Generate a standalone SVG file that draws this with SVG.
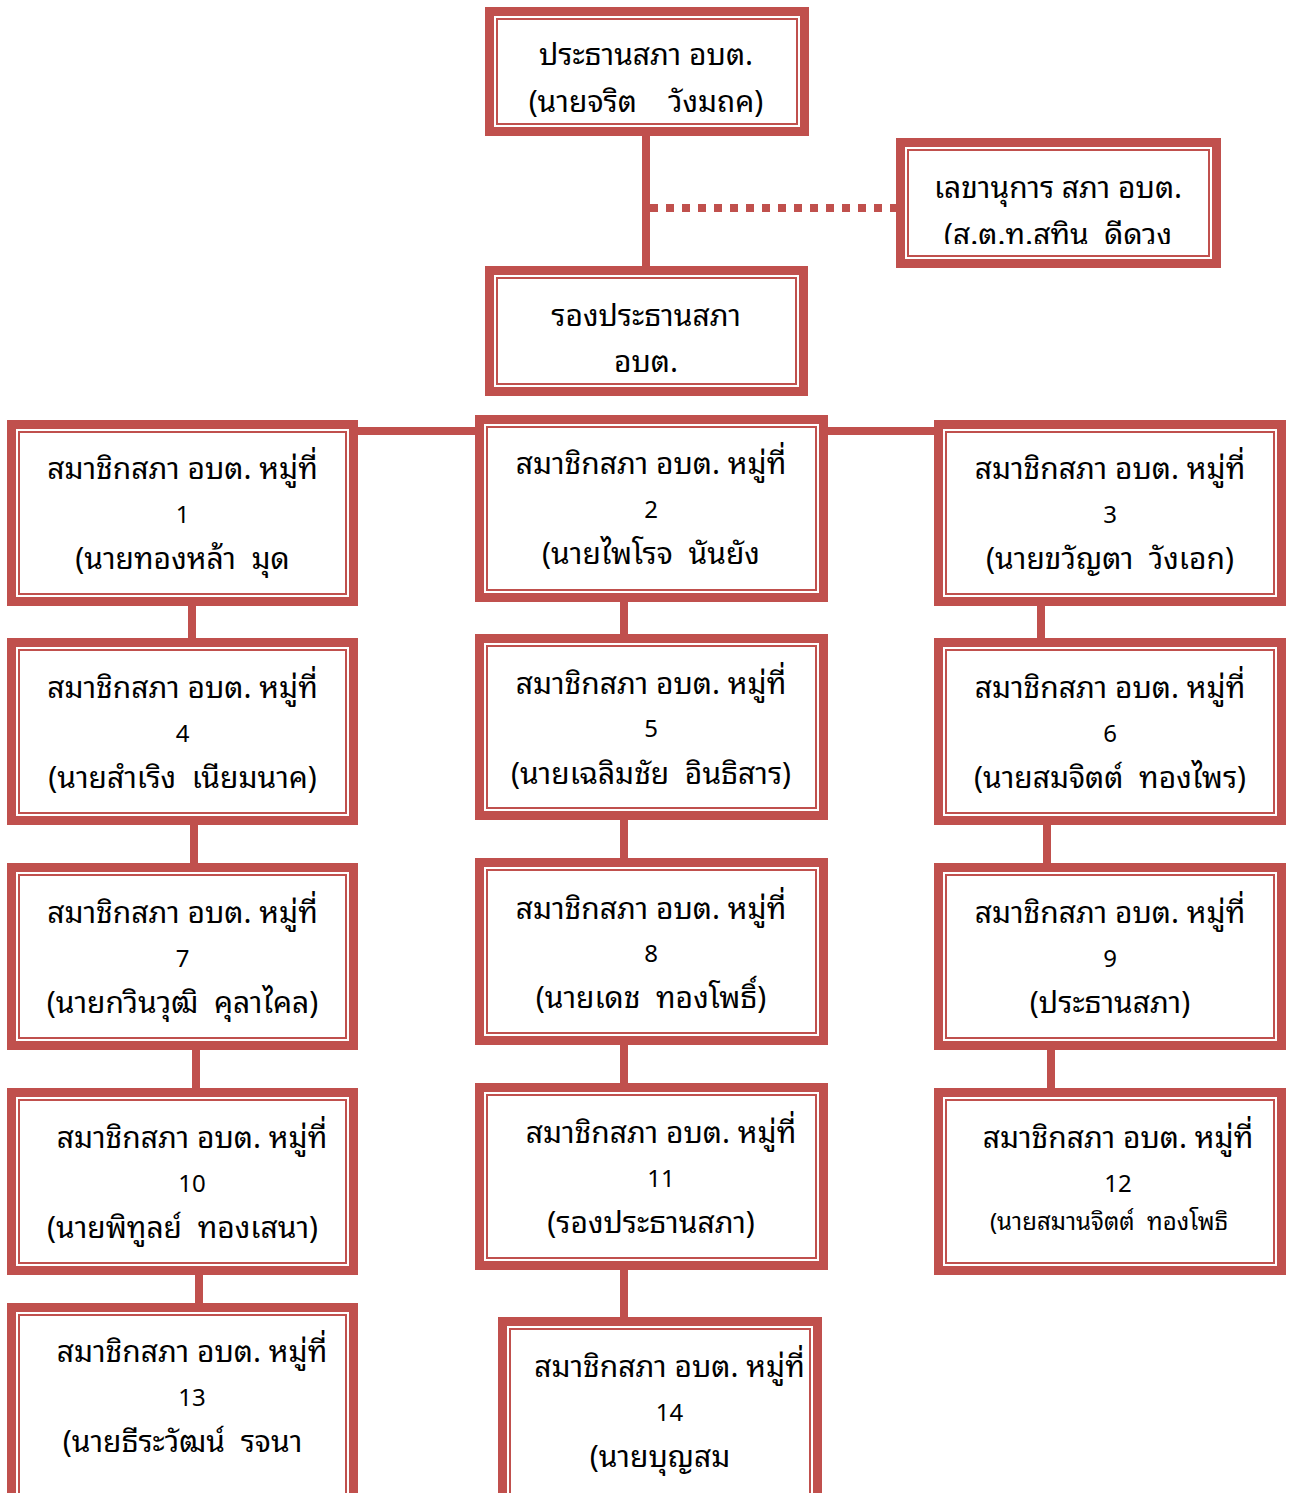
<svg xmlns="http://www.w3.org/2000/svg" width="1289" height="1493" viewBox="0 0 1289 1493">
<style>
.o{fill:#fff;stroke:#C0504D;stroke-width:9}
.i{fill:none;stroke:#C0504D;stroke-width:2}
.c{stroke:#C0504D;stroke-width:8;fill:none}
.d{stroke:#C0504D;stroke-width:8;fill:none;stroke-dasharray:8 8}
text{font-family:"Noto Sans Thai Looped","Tahoma","Loma","Garuda","Waree","Noto Sans Thai","Noto Sans","DejaVu Sans",sans-serif;font-size:30px;fill:#000;text-anchor:middle;white-space:pre}
.s{font-size:24px}
.n{font-size:24px}
</style>
<defs>
<clipPath id="secClip"><rect x="909" y="151" width="299" height="93"/></clipPath>
<clipPath id="b12Clip"><rect x="947" y="1101" width="326" height="150"/></clipPath>
</defs>
<rect width="1289" height="1493" fill="#fff"/>
<g id="connectors">
<line class="c" x1="646" y1="132" x2="646" y2="268"/>
<line class="d" x1="650" y1="208" x2="896" y2="208"/>
<line class="c" x1="352" y1="431" x2="480" y2="431"/>
<line class="c" x1="822" y1="431" x2="940" y2="431"/>
<line class="c" x1="192" y1="602" x2="192" y2="642"/>
<line class="c" x1="194" y1="821" x2="194" y2="867"/>
<line class="c" x1="196" y1="1046" x2="196" y2="1092"/>
<line class="c" x1="199" y1="1271" x2="199" y2="1307"/>
<line class="c" x1="624" y1="598" x2="624" y2="638"/>
<line class="c" x1="624" y1="816" x2="624" y2="862"/>
<line class="c" x1="624" y1="1041" x2="624" y2="1087"/>
<line class="c" x1="624" y1="1266" x2="624" y2="1321"/>
<line class="c" x1="1041" y1="602" x2="1041" y2="642"/>
<line class="c" x1="1047" y1="821" x2="1047" y2="867"/>
<line class="c" x1="1051" y1="1046" x2="1051" y2="1092"/>
</g>
<g id="chair">
<rect class="o" x="489.5" y="11.5" width="315" height="120"/>
<rect class="i" x="497" y="19" width="300" height="105"/>
<text x="646" y="65">ประธานสภา อบต.</text>
<text x="646" y="112">(นายจริต    วังมถค)</text>
</g>
<g id="secretary">
<rect class="o" x="900.5" y="142.5" width="316" height="121"/>
<rect class="i" x="908" y="150" width="301" height="106"/>
<g clip-path="url(#secClip)">
<text x="1058" y="198">เลขานุการ สภา อบต.</text>
<text x="1058" y="245">(ส.ต.ท.สทิน  ดีดวง</text>
</g>
</g>
<g id="vice">
<rect class="o" x="489.5" y="270.5" width="314" height="121"/>
<rect class="i" x="497" y="278" width="299" height="106"/>
<text x="646" y="326">รองประธานสภา</text>
<text x="646" y="372">อบต.</text>
</g>
<g id="m1">
<rect class="o" x="11.5" y="424.5" width="342" height="177"/>
<rect class="i" x="19" y="432" width="327" height="162"/>
<text x="182.5" y="479">สมาชิกสภา อบต. หมู่ที่</text>
<text class="n" x="182.5" y="523">1</text>
<text x="182.5" y="569">(นายทองหล้า  มุด</text>
</g>
<g id="m2">
<rect class="o" x="479.5" y="419.5" width="344" height="178"/>
<rect class="i" x="487" y="427" width="329" height="163"/>
<text x="651" y="474">สมาชิกสภา อบต. หมู่ที่</text>
<text class="n" x="651" y="518">2</text>
<text x="651" y="564">(นายไพโรจ  นันยัง</text>
</g>
<g id="m3">
<rect class="o" x="938.5" y="424.5" width="343" height="177"/>
<rect class="i" x="946" y="432" width="328" height="162"/>
<text x="1110" y="479">สมาชิกสภา อบต. หมู่ที่</text>
<text class="n" x="1110" y="523">3</text>
<text x="1110" y="569">(นายขวัญตา  วังเอก)</text>
</g>
<g id="m4">
<rect class="o" x="11.5" y="642.5" width="342" height="178"/>
<rect class="i" x="19" y="650" width="327" height="163"/>
<text x="182.5" y="698">สมาชิกสภา อบต. หมู่ที่</text>
<text class="n" x="182.5" y="742">4</text>
<text x="182.5" y="788">(นายสำเริง  เนียมนาค)</text>
</g>
<g id="m5">
<rect class="o" x="479.5" y="638.5" width="344" height="177"/>
<rect class="i" x="487" y="646" width="329" height="162"/>
<text x="651" y="694">สมาชิกสภา อบต. หมู่ที่</text>
<text class="n" x="651" y="737">5</text>
<text x="651" y="784">(นายเฉลิมชัย  อินธิสาร)</text>
</g>
<g id="m6">
<rect class="o" x="938.5" y="642.5" width="343" height="178"/>
<rect class="i" x="946" y="650" width="328" height="163"/>
<text x="1110" y="698">สมาชิกสภา อบต. หมู่ที่</text>
<text class="n" x="1110" y="742">6</text>
<text x="1110" y="788">(นายสมจิตต์  ทองไพร)</text>
</g>
<g id="m7">
<rect class="o" x="11.5" y="867.5" width="342" height="178"/>
<rect class="i" x="19" y="875" width="327" height="163"/>
<text x="182.5" y="923">สมาชิกสภา อบต. หมู่ที่</text>
<text class="n" x="182.5" y="967">7</text>
<text x="182.5" y="1013">(นายกวินวุฒิ  คุลาไคล)</text>
</g>
<g id="m8">
<rect class="o" x="479.5" y="862.5" width="344" height="178"/>
<rect class="i" x="487" y="870" width="329" height="163"/>
<text x="651" y="919">สมาชิกสภา อบต. หมู่ที่</text>
<text class="n" x="651" y="962">8</text>
<text x="651" y="1008">(นายเดช  ทองโพธิ์)</text>
</g>
<g id="m9">
<rect class="o" x="938.5" y="867.5" width="343" height="178"/>
<rect class="i" x="946" y="875" width="328" height="163"/>
<text x="1110" y="923">สมาชิกสภา อบต. หมู่ที่</text>
<text class="n" x="1110" y="967">9</text>
<text x="1110" y="1013">(ประธานสภา)</text>
</g>
<g id="m10">
<rect class="o" x="11.5" y="1092.5" width="342" height="178"/>
<rect class="i" x="19" y="1100" width="327" height="163"/>
<text x="192" y="1148">สมาชิกสภา อบต. หมู่ที่</text>
<text class="n" x="192" y="1192">10</text>
<text x="182.5" y="1238">(นายพิทูลย์  ทองเสนา)</text>
</g>
<g id="m11">
<rect class="o" x="479.5" y="1087.5" width="344" height="178"/>
<rect class="i" x="487" y="1095" width="329" height="163"/>
<text x="661" y="1143">สมาชิกสภา อบต. หมู่ที่</text>
<text class="n" x="661" y="1187">11</text>
<text x="651" y="1233">(รองประธานสภา)</text>
</g>
<g id="m12">
<rect class="o" x="938.5" y="1092.5" width="343" height="178"/>
<rect class="i" x="946" y="1100" width="328" height="163"/>
<g clip-path="url(#b12Clip)">
<text x="1118" y="1148">สมาชิกสภา อบต. หมู่ที่</text>
<text class="n" x="1118" y="1192">12</text>
<text class="s" x="1109" y="1230">(นายสมานจิตต์  ทองโพธิ</text>
</g>
</g>
<g id="m13">
<rect class="o" x="11.5" y="1307.5" width="342" height="220"/>
<rect class="i" x="19" y="1315" width="327" height="205"/>
<text x="192" y="1362">สมาชิกสภา อบต. หมู่ที่</text>
<text class="n" x="192" y="1406">13</text>
<text x="182.5" y="1452">(นายธีระวัฒน์  รจนา</text>
</g>
<g id="m14">
<rect class="o" x="502.5" y="1321.5" width="315" height="220"/>
<rect class="i" x="510" y="1329" width="300" height="205"/>
<text x="669.5" y="1377">สมาชิกสภา อบต. หมู่ที่</text>
<text class="n" x="669.5" y="1421">14</text>
<text x="660" y="1467">(นายบุญสม</text>
</g>
</svg>
